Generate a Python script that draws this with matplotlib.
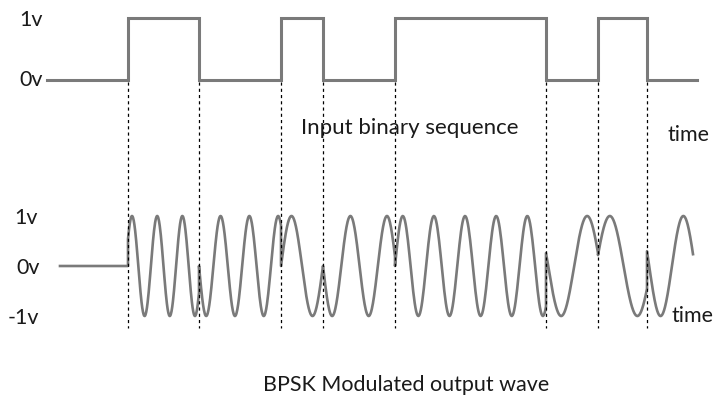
import numpy as np
import matplotlib
matplotlib.use("Agg")
import matplotlib.pyplot as plt
from matplotlib.lines import Line2D
from matplotlib.transforms import blended_transform_factory

# --- data (time in arbitrary units) ---
bit_edges = [47, 128, 199, 281, 323, 395, 546, 598, 647, 697]
bits = [0, 1, 0, 1, 0, 1, 0, 1, 0]

wave_start = 60
wave_edges = [128, 199, 281, 323, 395, 546, 598, 647, 693]
seg_phase0 = [0.57, 3.14, 0.0, 3.14, 0.0, 2.88, 0.22, 2.84]   # rad
seg_cycles = [2.82, 2.85, 1.0, 1.97, 4.85, 1.0, 0.89, 1.01]

LINE = "#7a7a7a"
W, H = 714, 400
FONT = ["Lato", "DejaVu Sans"]
plt.rcParams["font.family"] = FONT

fig = plt.figure(figsize=(W / 100, H / 100), dpi=100)

# top: binary sequence (1 -> px 18, 0 -> px 80)
ax1 = fig.add_axes([0, 0.7225, 1, 0.31])
ax1.set_xlim(0, W)
ax1.set_ylim(-0.5, 1.5)
ax1.axis("off")
ax1.step(bit_edges, bits + [bits[-1]], where="post", color=LINE, lw=2.2,
         solid_joinstyle="miter")

# bottom: BPSK wave (1 -> px 216, -1 -> px 316)
ax2 = fig.add_axes([0, 0.1475, 1, 0.375])
ax2.set_xlim(0, W)
ax2.set_ylim(-1.5, 1.5)
ax2.axis("off")

xs = [np.array([wave_start, wave_edges[0]])]
ys = [np.zeros(2)]
for a, b, p0, cyc in zip(wave_edges[:-1], wave_edges[1:], seg_phase0, seg_cycles):
    t = np.linspace(a, b, 200)
    xs.append(t)
    ys.append(np.sin(p0 + 2 * np.pi * cyc * (t - a) / (b - a)))
ax2.plot(np.concatenate(xs), np.concatenate(ys), color=LINE, lw=1.9)

# dashed guides through both panels
tr = blended_transform_factory(ax2.transData, fig.transFigure)
for x in bit_edges[1:-1]:
    fig.add_artist(Line2D([x, x], [1 - 82 / H, 1 - 328 / H], transform=tr,
                          color="black", lw=0.9, ls=(0, (2.5, 2.5))))

def label(x, y, s, ha="left", size=15.5):
    fig.text(x / W, 1 - y / H, s, ha=ha, va="center", fontsize=size, color="#1a1a1a")

label(19, 20, "1v")
label(19, 80, "0v")
label(14, 218, "1v")
label(16, 268, "0v")
label(8, 318, "-1v")
label(667, 135, "time")
label(672, 316, "time")
label(410, 128, "Input binary sequence", ha="center", size=16)
label(406, 385, "BPSK Modulated output wave", ha="center")

fig.savefig("out.png", dpi=100)
